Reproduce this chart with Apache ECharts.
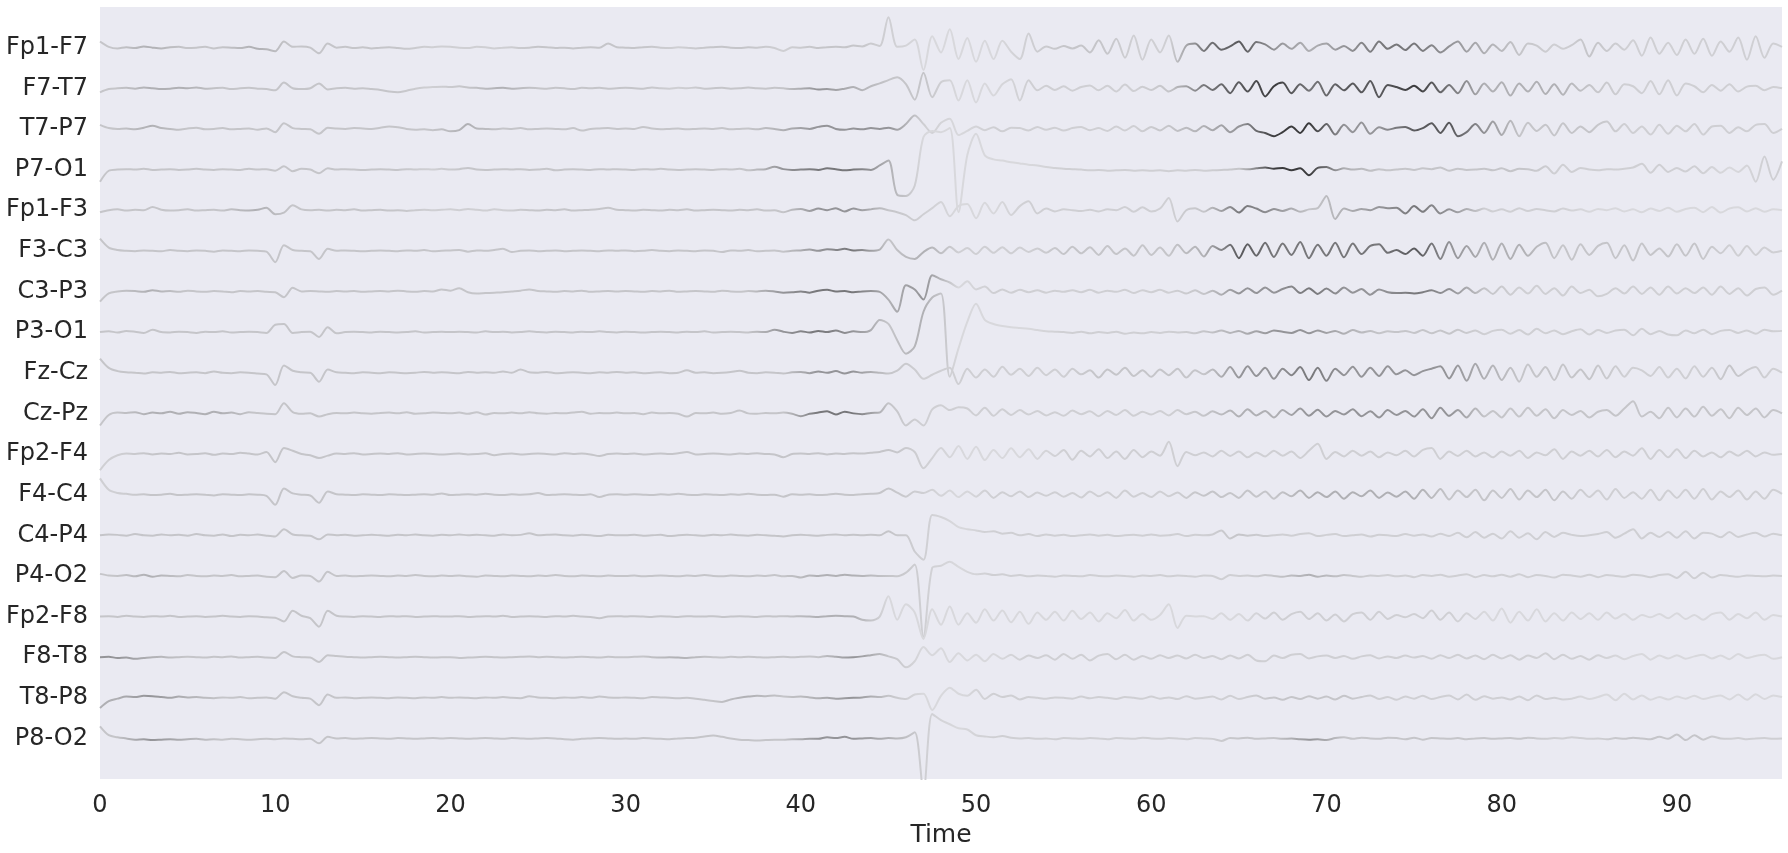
<!DOCTYPE html>
<html>
<head>
<meta charset="utf-8">
<script src="https://cdn.jsdelivr.net/npm/echarts@6/dist/echarts.min.js"></script>
<style>
html,body{margin:0;padding:0;background:#ffffff;}
#chart{width:1788px;height:853px;}
</style>
</head>
<body>
<div id="chart"></div>
<script>
// Channel names, top to bottom
const channels = ["Fp1-F7","F7-T7","T7-P7","P7-O1","Fp1-F3","F3-C3","C3-P3","P3-O1","Fz-Cz","Cz-Pz","Fp2-F4","F4-C4","C4-P4","P4-O2","Fp2-F8","F8-T8","T8-P8","P8-O2"];
// x tick labels
const timeTicks = [0,10,20,30,40,50,60,70,80,90];
const sampleStep = 0.5;   // seconds between samples
const timeMax = 96;
const shadeBlock = 2;     // seconds per shade block

// Signal values (hundredths of channel spacing, positive = up), one every 0.5 s from 0 to 96
const fp1_f7 = [
15,2,-2,1,-1,3,0,-2,1,2,-1,0,2,-2,1,0,-1,2,-3,-4,
-9,15,2,3,0,-14,10,0,2,-1,1,-2,0,1,-1,-3,-1,2,1,3,
2,0,-1,2,1,-2,0,1,-1,0,2,1,-1,0,-2,0,1,0,10,1,
0,-1,1,2,0,-1,1,0,-2,0,1,2,0,-1,1,0,2,-1,-8,1,
0,2,-1,1,2,1,5,3,10,4,75,2,5,20,-55,28,-12,45,-28,24,
-35,17,-28,17,-10,-28,35,-10,3,-3,4,-2,5,-12,18,-15,22,-25,30,-30,
20,-12,30,-35,5,10,-8,12,-5,3,15,-10,14,8,-5,10,-3,12,-8,5,
10,-5,4,-8,12,-10,15,-3,8,-6,10,-8,6,-12,3,15,-10,12,-14,8,
-8,14,-18,10,5,-10,8,-3,6,20,-22,12,-8,10,-5,18,-20,25,-15,12,
-18,20,-15,22,-20,15,-10,25,-30,28,-25,10,2];
const f7_t7 = [
-10,-2,0,1,-1,2,0,-2,-1,1,0,2,-1,0,1,-2,0,1,-1,-2,
-5,14,0,-2,0,12,-3,0,1,-1,0,-2,-4,-8,-10,-6,-1,2,3,4,
3,5,2,1,-1,0,1,-1,0,1,0,-1,1,0,-2,1,0,1,-1,0,
1,0,-1,2,0,-1,1,0,2,-1,0,1,-1,0,2,0,-1,1,0,-2,
-1,0,-3,-2,-4,-1,3,-5,5,12,20,27,10,-28,38,-22,15,20,-30,20,
-35,12,-18,10,22,-30,20,-5,6,-4,5,-6,3,7,-5,6,-8,9,-7,4,
-4,6,-8,3,5,-6,8,-4,10,-12,15,-8,18,-20,5,14,-12,10,-6,16,
-18,10,-5,12,-10,18,-22,8,3,-4,6,-8,14,-10,8,-12,18,-15,12,-8,
15,-18,12,-8,16,-14,10,-16,12,-6,8,-10,14,-15,10,5,-12,18,-15,20,
-18,12,5,-10,8,-6,10,-8,4,6,-5,3,0];
const t7_p7 = [
10,2,0,1,-1,3,8,2,0,-2,1,3,-1,0,2,-1,0,1,-2,1,
-8,14,2,0,-1,-12,3,1,0,2,1,0,3,6,4,0,-2,-1,-3,-1,
-6,-3,12,1,0,-1,1,0,2,-1,0,1,0,-1,2,-4,0,1,2,0,
1,0,5,1,-1,0,1,-1,0,1,0,2,-1,0,1,-1,2,0,-3,1,
2,0,5,8,0,-2,1,-1,2,0,3,-2,12,33,12,-10,15,25,-15,-5,
6,-3,4,-6,3,2,-4,5,-2,3,-4,2,5,-3,2,-5,6,-4,7,-6,
5,-4,8,-5,3,-6,7,-3,9,-8,6,12,-5,-10,-18,-8,6,-10,14,-6,
12,-14,10,-8,16,-12,4,-2,3,5,-4,2,14,-10,15,-18,-8,12,-10,18,
-15,20,-18,15,-5,10,-16,14,-10,6,-8,10,18,-6,12,-10,6,-14,10,-12,
8,-6,12,-14,6,8,-10,4,-6,10,12,-10,0];
const p7_o1 = [
-30,-3,0,1,0,2,-1,0,1,-1,0,2,0,-1,1,0,-1,2,0,1,
-3,8,-4,2,0,-9,3,0,1,0,-1,0,1,0,-1,1,0,1,0,2,
0,1,4,0,-1,0,1,0,1,-1,0,2,-2,0,1,0,-1,1,0,1,
0,-1,1,0,2,0,-1,0,1,0,-1,1,0,2,-2,0,1,7,1,-1,
0,1,-1,3,1,-2,0,1,-1,10,22,-62,-65,-40,80,95,92,102,-105,35,
88,35,25,22,18,15,12,10,6,4,2,1,0,-2,-1,-3,-2,-1,-3,-2,
-3,-2,-4,-2,-3,-1,-3,-2,-1,0,2,1,3,5,2,4,-2,3,-14,4,
6,-2,3,0,2,-3,1,-2,0,2,-1,3,1,5,-3,2,-1,0,2,-2,
3,-4,2,1,-3,8,-10,12,-6,4,0,-2,1,0,2,5,14,-8,12,-6,
4,-5,8,-9,6,-8,5,-6,10,-30,32,-25,20];
const fp1_f3 = [
-5,0,2,-1,1,0,8,1,-1,0,2,-1,0,1,-1,2,0,-1,1,6,
-10,-6,12,2,0,1,-1,1,0,2,-1,0,1,-1,0,-2,0,1,0,1,
2,0,3,1,-1,2,0,-1,1,0,-1,1,0,2,-1,0,1,3,6,1,
0,-1,1,0,-1,1,0,2,-1,0,1,0,-1,1,0,2,-1,0,-5,1,
3,-2,4,0,5,-3,4,0,2,5,0,-5,-12,-25,-10,5,20,-15,10,15,
-20,18,-8,20,-12,10,22,-8,4,-3,2,0,-2,1,-3,2,0,8,-4,7,
-3,4,30,-28,0,5,-4,6,-2,8,-6,10,4,-5,3,-2,4,-4,2,5,
35,-22,4,-2,3,0,8,5,6,-8,10,-4,12,-8,2,-5,3,-2,4,-3,
2,-4,5,-2,3,0,-3,4,-1,2,-4,3,0,5,-3,2,-5,4,-2,6,
-4,3,6,-5,8,-6,4,7,-3,5,-4,2,0];
const f3_c3 = [
30,8,2,0,-1,1,0,-1,2,0,-1,1,0,-2,1,0,-1,1,0,-2,
-28,14,2,0,-1,-20,5,0,1,0,-1,0,1,0,-1,1,0,2,-1,0,
1,2,-2,1,0,2,5,-3,0,1,-1,0,1,-1,0,1,0,-1,1,0,
1,-1,0,2,0,-1,1,0,-1,1,0,-3,1,0,2,-1,0,1,-2,0,
1,3,0,4,2,5,1,2,0,3,28,2,-15,-20,-3,8,-6,10,-4,7,
-8,10,-5,9,-6,8,-3,6,-5,7,-8,10,-6,9,-10,12,-8,6,-12,14,
-10,8,-12,15,-6,10,-14,12,2,15,-18,16,-12,20,-15,18,-10,22,-18,15,
-12,20,-16,18,-8,12,16,-5,2,-8,6,-12,18,-20,22,-18,12,-15,20,-22,
18,-20,15,-12,10,20,-18,14,-22,16,-10,12,20,-18,14,-24,18,-10,6,-14,
16,-12,18,-20,10,-6,14,-12,12,-10,8,-4,0];
const c3_p3 = [
-25,-5,0,2,1,-1,3,0,1,-1,2,0,-1,1,0,-2,1,0,1,-1,
-2,-14,9,0,1,0,-1,1,0,1,-1,0,1,0,2,0,-1,1,0,5,
2,8,-2,-5,-4,-3,-2,0,2,5,1,0,-1,1,0,2,-1,0,1,0,
1,0,-1,1,0,2,-1,0,1,0,-1,2,0,-1,1,0,2,0,-3,-2,
0,-3,2,4,0,1,-2,0,1,-1,-20,-50,15,5,-20,40,30,22,10,25,
5,12,-4,5,-3,4,-2,3,-3,2,-1,3,-2,4,-3,2,-1,4,-4,3,
-2,4,-3,2,-5,3,-6,2,-8,4,-5,8,-4,10,-3,6,12,-4,8,-6,
7,-5,10,-3,6,-8,5,-2,-4,-3,-5,-2,3,-4,6,-5,10,-4,8,-6,
12,-8,10,-5,14,-6,8,-10,12,-4,4,-12,-6,8,-5,12,-6,10,-8,12,
-5,8,-4,10,-8,12,-6,8,-10,6,10,-8,2];
const p3_o1 = [
0,2,-1,3,1,-2,6,0,-1,1,0,-2,1,0,2,-1,0,1,0,-2,
18,20,-2,0,1,-12,12,-3,0,1,0,-1,1,0,-1,0,2,-1,0,1,
0,1,0,-1,2,0,1,-1,0,2,0,-1,1,0,-1,1,0,2,0,-1,
1,0,-1,0,1,0,-1,1,0,2,-1,0,1,0,-1,1,0,6,1,-2,
2,-1,3,0,4,-2,2,0,5,30,20,-20,-53,-35,50,85,95,-110,-40,25,
70,30,20,15,12,10,8,5,2,1,0,-2,1,-3,0,-2,1,-4,-1,-3,
0,-2,1,-1,0,-3,2,-1,4,-2,3,-4,2,-3,4,1,-2,5,-3,4,
-2,3,-4,5,-1,3,-3,2,0,3,-2,5,-3,4,-4,6,-2,4,-5,3,
6,-4,5,-6,8,-3,4,-5,2,7,-6,5,-2,4,6,-8,8,-5,3,-6,
-8,4,-3,6,-5,3,5,-2,4,-4,6,2,3];
const fz_cz = [
35,12,4,1,0,-2,1,0,2,-1,0,1,-1,3,0,-1,1,0,-2,-4,
-30,18,5,1,0,-22,8,1,0,-1,1,0,-1,1,0,-1,0,2,0,1,
0,-1,2,0,1,0,3,0,8,1,0,2,-1,0,1,0,-1,1,0,2,
0,1,-1,0,1,-1,0,6,0,1,-1,0,2,5,0,-1,1,0,-2,1,
2,-1,3,0,4,-2,3,0,2,0,-2,5,22,8,-15,-5,5,12,-28,10,
-12,8,-10,15,-5,10,-8,12,-6,8,-10,10,-4,6,-12,8,-5,12,-8,6,
-10,8,-6,10,-12,6,-4,8,-10,14,-12,16,-8,12,-15,10,-6,14,-18,12,
-20,10,-6,15,-10,12,-8,16,-4,6,-6,4,10,16,-14,18,-20,22,-15,18,
-18,12,-22,20,-10,14,-18,20,-12,8,-16,18,-14,16,-10,12,6,-8,14,-12,
10,-14,16,-10,12,-16,18,-8,6,14,-12,10,0];
const cz_pz = [
-30,-4,2,1,3,-2,2,0,4,-1,3,1,-2,4,0,2,-2,3,1,-1,
-2,25,3,-1,0,-8,-2,1,0,2,0,-1,1,2,0,3,-1,0,2,1,
0,2,-1,3,-3,1,0,2,0,3,0,-1,1,0,2,4,-1,1,0,2,
0,1,-2,2,0,1,-1,-8,1,0,2,-1,1,7,0,-1,1,0,2,-1,
-7,-1,2,5,-3,4,0,-2,1,2,25,5,-30,-15,-30,10,20,8,15,12,
-5,14,-6,10,-4,8,-3,6,-5,3,-6,7,-2,5,-7,6,-4,8,-6,4,
-3,6,-5,8,-2,4,-6,5,-3,7,-8,10,-5,6,-10,8,-4,12,-6,9,
-8,6,-3,10,-7,5,-10,8,-4,6,-8,10,-12,14,-6,8,-10,12,-8,6,
-10,12,-8,14,-6,10,-12,8,-4,6,-10,4,8,-6,12,30,-8,4,-12,14,
-10,12,-8,16,-6,10,-12,14,-4,12,-10,8,0];
const fp2_f4 = [
-40,-15,-3,1,0,2,-1,1,0,3,-1,0,2,-2,1,0,3,1,-1,5,
-20,15,8,0,-3,-10,-4,1,0,2,-1,0,1,0,2,-1,0,1,0,-1,
0,1,-1,0,2,-3,0,1,-1,0,1,0,-1,2,0,1,-1,-5,0,1,
0,1,-1,0,1,0,2,5,-1,0,1,0,-1,1,0,2,0,-1,-8,0,
1,0,2,-1,1,0,2,1,3,5,10,4,15,5,-35,-10,15,-8,20,-12,
18,-15,10,-10,14,-8,12,-12,8,-5,10,-14,8,-6,12,-10,6,-12,10,-8,
6,-4,30,-30,5,-3,4,-6,8,-5,6,-8,4,-6,8,-4,6,-10,8,25,
-12,5,-6,8,-4,6,-8,4,-3,8,-6,10,15,-12,6,-5,8,-6,4,-8,
6,-4,8,-10,4,-3,12,-12,6,-4,8,-6,10,-8,6,-4,14,-12,10,-8,
12,-10,8,-6,4,-8,6,-4,8,-6,4,-2,0];
const f4_c4 = [
40,12,4,2,0,1,-1,0,2,-1,0,1,0,-2,1,0,-1,1,0,-3,
-25,15,3,0,-2,-20,8,1,0,-1,1,0,-1,1,0,-1,0,1,0,3,
-1,0,1,0,2,0,-1,1,0,1,4,-1,0,1,0,-1,1,-6,0,1,
0,1,0,-1,1,0,2,0,-1,1,0,-1,1,0,2,0,-1,0,-5,1,
0,1,-1,0,2,0,-1,1,2,4,15,5,-5,8,4,12,-3,10,-6,8,
-5,10,-8,6,-4,8,-6,5,-3,6,-5,4,-7,8,-4,6,-8,10,-5,4,
-6,8,-4,5,-8,6,-3,8,-6,4,-8,10,-5,8,-10,6,-4,10,-8,6,
-6,8,-10,6,-4,10,-8,5,-5,8,-10,12,-8,14,-12,10,-6,12,-14,10,
-8,14,-12,10,-6,12,-14,8,-10,12,-6,10,-12,14,-8,6,-10,12,-14,10,
-8,12,-10,14,-12,8,-6,10,-12,8,-10,12,2];
const c4_p4 = [
0,2,1,-1,3,0,-1,2,0,1,-1,3,0,-1,2,-2,1,0,2,-1,
-3,15,2,0,-1,-10,2,0,1,-1,0,1,0,-1,1,0,2,0,-1,1,
0,2,0,1,0,-1,2,0,1,5,0,1,2,0,-1,1,0,-2,1,0,
0,1,-1,0,1,-2,0,1,0,-1,1,0,2,0,-1,1,0,-1,-3,0,
1,0,-1,1,2,0,1,0,1,0,10,0,0,-40,-60,50,45,35,20,15,
12,8,10,4,6,0,3,-2,2,-1,1,-2,0,2,-1,1,-2,0,1,-1,
2,-1,0,3,-2,1,0,2,12,-8,2,-1,1,-2,0,2,-1,3,5,-2,
1,3,-2,0,2,-3,1,0,-2,3,-1,2,-3,4,-2,6,-5,8,-6,4,
-8,10,-6,5,-10,8,-4,6,1,-2,0,3,8,-6,4,15,-8,6,-4,8,
-6,10,-8,6,4,-5,8,-4,2,6,-3,4,0];
const p4_o2 = [
5,1,0,2,-1,3,-2,1,0,-1,2,0,-1,1,0,2,-1,0,1,-2,
-3,12,-5,1,0,-14,10,0,1,-1,0,1,0,-1,1,0,2,0,-1,1,
0,1,-1,-2,1,0,-1,1,0,-1,1,0,2,0,-1,1,0,-1,1,0,
0,1,-1,0,1,0,-1,1,0,2,0,-1,1,0,-1,1,0,2,-1,0,
-4,1,0,2,0,3,1,0,1,0,0,-1,8,28,-150,20,25,35,22,10,
4,6,2,4,0,2,-1,1,0,-2,1,0,-1,2,0,-1,1,0,-2,1,
0,2,-1,1,0,-2,1,0,-8,2,0,1,-1,2,0,-2,1,0,3,-2,
1,-1,2,0,-2,1,0,2,-1,1,-3,2,0,3,-2,1,4,-3,2,-1,
3,-2,4,-3,2,0,-4,3,1,-2,3,-3,2,0,-2,3,1,-3,2,4,
-5,10,-6,8,-4,2,0,-2,1,0,-1,1,0];
const fp2_f8 = [
0,1,-1,2,0,-1,1,0,2,-1,0,1,-1,0,2,0,-1,1,0,-2,
-3,-12,14,2,-4,-25,14,2,0,-1,1,0,-1,1,0,1,-1,0,1,0,
0,1,-1,0,1,0,2,-1,0,1,0,-1,1,0,2,0,-1,-4,0,1,
0,1,0,-1,1,0,-1,1,0,0,1,-1,0,1,0,-1,1,0,1,0,
1,0,-1,1,2,1,0,-8,-10,0,50,-8,30,10,-55,18,-20,25,-20,8,
-15,18,-10,15,-14,12,-18,10,-8,12,-10,14,-6,10,-12,8,-4,16,-10,6,
-8,4,30,-28,2,0,1,-6,8,-8,6,-10,8,-5,10,-8,6,12,-6,8,
-10,5,-12,6,10,-8,12,-6,4,-2,6,-4,15,-8,10,-12,8,-6,12,-10,
20,-15,12,-10,18,-12,8,-10,10,-6,8,-8,10,-5,6,-8,4,-2,6,-4,
8,-6,4,-8,6,10,-8,6,-4,10,-8,4,0];
const f8_t8 = [
0,1,-2,-1,-4,-2,0,1,-1,0,1,0,-1,1,0,2,-1,0,1,-1,
-2,13,2,0,-1,-12,5,3,1,0,-1,0,1,0,-1,0,1,0,-1,0,
0,-2,-1,0,1,0,-1,0,1,2,0,1,0,-1,0,1,0,-1,1,0,
0,1,2,0,-1,0,-1,-2,0,1,0,-1,1,0,1,0,-1,0,1,0,
1,2,0,3,1,-1,0,2,5,8,2,-5,-25,-10,25,5,22,-12,10,-8,
6,-10,8,-4,6,-6,4,-2,5,-6,8,-4,6,-8,4,8,-5,6,-6,3,
-4,5,-2,4,-3,6,-2,3,-5,4,-3,6,-8,-10,4,-2,6,8,-3,2,
4,-2,3,-4,2,5,-3,2,-2,4,-1,3,-4,5,-2,6,-3,4,-5,6,
-3,5,-6,4,-2,10,-5,6,-4,3,-6,5,-2,4,-5,3,8,-6,4,-3,
5,-4,2,6,-3,4,-5,8,-2,3,6,-4,0];
const t8_p8 = [
-25,-8,-2,3,2,5,4,2,0,3,1,2,0,-1,1,0,2,-1,0,1,
-2,14,4,0,-2,-18,8,0,1,-1,0,1,0,-1,1,0,-1,1,0,2,
0,1,0,-1,1,0,2,0,-1,4,1,0,-1,1,0,2,0,3,1,0,
1,0,-1,2,1,0,-1,0,-2,-5,-8,-10,-4,0,3,5,4,6,3,2,
3,1,-1,0,-2,-1,0,1,3,2,5,0,-3,8,10,-30,5,25,10,5,
20,-3,10,2,6,-4,2,0,-2,1,0,-2,3,-1,2,0,-3,2,0,-2,
3,-2,1,-3,4,-2,0,3,-4,5,-3,2,6,-2,1,-5,2,-3,4,-2,
3,-4,5,-2,2,6,-3,2,-5,3,-2,5,-3,2,6,-4,8,-5,4,-2,
1,-4,3,-6,6,-3,0,-4,-2,3,-3,2,8,-6,10,-4,6,-5,2,-4,
3,-2,5,-3,2,6,-4,8,-5,9,-3,6,2];
const p8_o2 = [
30,8,3,0,-3,-2,-4,-3,-2,-3,-2,-1,-3,-2,-3,-1,-2,-3,-2,-1,
-2,0,-1,-2,-1,-12,4,0,1,-1,0,1,0,-1,1,0,-1,0,1,0,
1,0,-1,0,1,0,-1,1,0,-1,0,1,0,-2,-3,-1,0,1,0,-1,
0,-1,1,0,-1,-2,0,1,2,5,7,4,0,-3,-4,-5,-4,-3,-3,-2,
-2,-1,-1,3,1,4,-1,0,1,-1,1,0,3,15,-130,60,45,35,25,22,
8,5,3,6,2,0,1,-1,0,-2,1,0,-1,1,0,-2,1,0,-1,2,
0,-1,1,0,-2,1,0,-1,-6,1,0,2,-1,0,1,-1,0,-2,-3,-2,
-4,1,3,-1,2,0,-1,2,1,-2,2,-3,1,0,-1,1,-2,0,1,-1,
0,1,-1,2,0,-1,1,0,3,1,-1,0,-2,1,-1,2,0,-2,4,-1,
10,-4,8,-3,5,0,-1,1,-2,0,1,-1,0];

// Line shade per 2-second block (0 = lightest, 9 = darkest)
const fp1_f7Shade = [3,4,3,3,4,3,3,3,3,2,2,2,3,3,3,3,2,3,3,2,3,3, 2,1,1,1,2,3,3,2,2,6,7,5,4,5,6,6,5,4,3,2,3,2,2,2,2,2];
const f7_t7Shade  = [3,4,4,3,3,3,3,3,3,2,3,4,3,3,3,3,2,3,3,3,5,4, 3,3,1,1,2,2,2,2,3,6,7,8,6,7,7,8,6,4,4,4,3,2,2,2,2,2];
const t7_p7Shade  = [3,4,3,3,3,3,3,3,3,3,4,3,3,3,3,3,3,3,3,4,5,5, 5,2,1,2,2,2,2,2,3,4,5,8,8,5,5,7,7,5,3,3,3,2,2,2,2,2];
const p7_o1Shade  = [3,3,3,3,3,3,3,3,3,2,3,3,3,3,3,3,3,3,3,5,6,6, 4,1,1,1,1,2,2,2,2,2,3,8,8,4,3,3,3,3,3,2,2,2,2,2,1,2];
const fp1_f3Shade = [3,3,3,3,4,3,3,3,3,2,2,2,3,3,3,3,3,3,3,3,5,5, 3,2,1,1,2,2,2,2,2,3,6,5,3,4,5,6,5,2,2,2,1,1,1,1,1,1];
const f3_c3Shade  = [3,3,3,3,3,3,3,3,3,3,3,3,3,3,3,3,3,3,3,3,5,6, 3,4,2,2,2,3,3,3,3,4,7,6,6,6,6,7,5,4,4,3,3,3,3,3,2,2];
const c3_p3Shade  = [3,4,3,3,3,3,3,3,3,3,3,3,3,3,3,3,3,3,3,5,6,6, 4,5,1,2,2,2,2,2,2,3,5,5,6,5,5,6,5,3,2,2,2,2,2,2,2,2];
const p3_o1Shade  = [3,3,3,3,3,3,3,3,3,3,3,3,3,3,3,3,3,3,3,5,6,5, 3,4,1,1,1,2,2,2,2,3,4,5,5,4,3,3,3,2,2,2,2,2,2,2,2,2];
const fz_czShade  = [3,3,3,3,3,3,3,3,3,3,3,3,3,3,3,3,3,3,3,3,5,5, 3,2,2,2,2,2,3,3,3,3,5,5,6,5,5,5,5,4,3,3,3,2,2,2,3,2];
const cz_pzShade  = [3,4,4,4,3,3,3,3,3,3,3,3,3,3,3,3,3,3,3,3,6,6, 3,2,2,2,2,2,2,2,2,3,4,4,5,5,5,5,5,3,3,3,3,3,3,3,3,3];
const fp2_f4Shade = [2,3,3,3,3,3,3,3,3,3,3,3,3,3,3,3,3,3,3,3,3,3, 3,2,1,1,1,2,2,2,2,2,2,2,2,2,2,2,2,2,2,2,2,2,2,2,2,2];
const f4_c4Shade  = [2,3,3,3,3,3,3,3,3,3,3,3,3,3,3,3,3,3,3,3,3,3, 3,2,1,2,2,2,2,2,2,3,3,3,4,4,4,4,3,3,3,3,2,2,2,2,2,2];
const c4_p4Shade  = [3,3,3,3,3,3,3,3,3,3,3,3,3,3,3,3,3,3,3,3,3,3, 3,2,1,2,2,2,2,2,2,2,3,2,2,2,2,2,2,2,2,2,2,2,2,2,2,2];
const p4_o2Shade  = [3,4,3,3,3,3,3,3,3,3,3,3,3,3,3,3,3,3,3,3,4,4, 3,2,1,2,2,2,2,2,2,2,2,3,4,3,2,2,2,2,2,2,2,2,2,2,2,2];
const fp2_f8Shade = [3,3,3,3,3,3,3,3,3,3,3,3,3,3,3,3,3,3,3,3,4,4, 1,1,1,1,1,1,1,1,1,1,1,2,2,2,2,2,2,1,1,1,1,1,1,1,1,1];
const f8_t8Shade  = [5,4,3,3,3,3,3,3,3,3,3,3,3,3,3,3,4,3,3,3,3,5, 3,1,1,1,2,2,2,2,2,2,2,2,2,2,2,2,2,2,2,2,2,1,1,1,1,1];
const t8_p8Shade  = [4,5,4,3,3,3,3,3,3,3,3,3,3,3,3,3,3,3,4,3,4,5, 3,1,1,2,2,2,2,2,2,2,2,3,3,3,2,2,2,2,2,2,1,1,1,1,1,1];
const p8_o2Shade  = [3,5,4,3,3,3,3,3,3,3,3,3,3,3,3,3,3,3,3,3,5,5, 4,2,1,2,2,2,2,2,2,2,3,3,5,3,3,3,3,3,3,2,2,3,3,3,2,2];

const signals = [fp1_f7,f7_t7,t7_p7,p7_o1,fp1_f3,f3_c3,c3_p3,p3_o1,fz_cz,cz_pz,fp2_f4,f4_c4,c4_p4,p4_o2,fp2_f8,f8_t8,t8_p8,p8_o2];
const shades = [fp1_f7Shade,f7_t7Shade,t7_p7Shade,p7_o1Shade,fp1_f3Shade,f3_c3Shade,c3_p3Shade,p3_o1Shade,fz_czShade,cz_pzShade,fp2_f4Shade,f4_c4Shade,c4_p4Shade,p4_o2Shade,fp2_f8Shade,f8_t8Shade,t8_p8Shade,p8_o2Shade];

// grey ramp: 0 lightest .. 9 darkest
const palette = ['#e0e0e4','#d8d8dc','#cfcfd3','#c5c5c9','#b0b0b4','#949498','#77777a','#59595c','#3b3b3d','#202022'];

function shadeGradient(sh) {
  // horizontal gradient along the trace; the trace spans t = 0 .. timeMax
  const stops = [{ offset: 0, color: palette[sh[0]] }];
  sh.forEach((s, j) => {
    stops.push({ offset: (j * shadeBlock + shadeBlock / 2) / timeMax, color: palette[s] });
  });
  stops.push({ offset: 1, color: palette[sh[sh.length - 1]] });
  return new echarts.graphic.LinearGradient(0, 0, 1, 0, stops);
}

const series = signals.map((sig, k) => ({
  name: channels[k],
  type: 'line',
  data: sig.map((v, i) => [i * sampleStep, k - v / 100]),
  showSymbol: false,
  symbol: 'none',
  smooth: 0.3,
  silent: true,
  clip: true,
  lineStyle: { width: 2, color: shadeGradient(shades[k]) }
}));

const chart = echarts.init(document.getElementById('chart'), null, { renderer: 'canvas' });
chart.setOption({
  animation: false,
  backgroundColor: '#ffffff',
  textStyle: { fontFamily: 'DejaVu Sans' },
  grid: { left: 100, right: 6, top: 7, bottom: 72, show: true, backgroundColor: '#EAEAF2', borderWidth: 0, containLabel: false },
  xAxis: {
    type: 'value', min: 0, max: timeMax, interval: 10,
    name: 'Time', nameLocation: 'middle', nameGap: 41,
    nameTextStyle: { fontSize: 25, color: '#262626', fontFamily: 'DejaVu Sans' },
    axisLine: { show: false }, axisTick: { show: false }, splitLine: { show: false },
    axisLabel: {
      fontSize: 24, color: '#262626', margin: 15, fontFamily: 'DejaVu Sans', showMaxLabel: false,
      formatter: v => (timeTicks.indexOf(v) >= 0 ? String(v) : '')
    }
  },
  yAxis: {
    type: 'value', inverse: true, min: -1, max: 18, interval: 1,
    axisLine: { show: false }, axisTick: { show: false }, splitLine: { show: false },
    axisLabel: {
      fontSize: 24, color: '#262626', margin: 12, fontFamily: 'DejaVu Sans',
      formatter: v => (v >= 0 && v < channels.length ? channels[v] : '')
    }
  },
  series: series
});
</script>
</body>
</html>
